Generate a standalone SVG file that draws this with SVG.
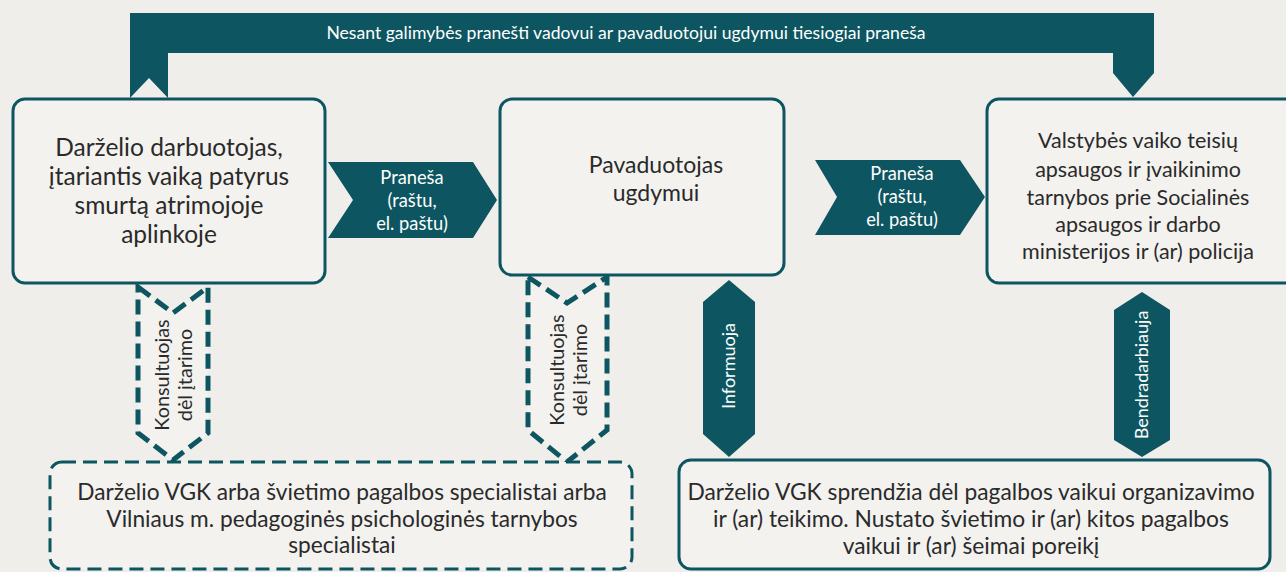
<svg xmlns="http://www.w3.org/2000/svg" width="1286" height="572" viewBox="0 0 1286 572">
<style>
.box{fill:#f3f2ef;stroke:#0d5661;stroke-width:3}
.dbox{fill:#f3f2ef;stroke:#0d5661;stroke-width:3;stroke-dasharray:14 7}
.band{fill:#0d5661}
.dash{fill:#f3f2ef;stroke:#0d5661;stroke-width:5;stroke-dasharray:15 7}
.t{font-family:Lato,"Liberation Sans",sans-serif;fill:#2a2a2a;text-anchor:middle}
.w{font-family:Lato,"Liberation Sans",sans-serif;fill:#ffffff;text-anchor:middle}
</style>
<rect x="0" y="0" width="1286" height="572" fill="#efeeeb"/>
<g id="connectors">
  <g id="top-band">
    <path class="band" d="M130,98 L130,13 L1154,13 L1154,73 L1133,97 L1113,73 L1113,53 L168,53 L168,98 L149,78 Z"/>
    <text class="w" x="626" y="39" font-size="17.6">Nesant galimybės pranešti vadovui ar pavaduotojui ugdymui tiesiogiai praneša</text>
  </g>
  <g id="arrow1">
    <path class="band" d="M328,162 L473,162 L497,200 L473,238 L328,238 L353,200 Z"/>
    <text class="w" font-size="18.3"><tspan x="412" y="184">Praneša</tspan><tspan x="412" y="207">(raštu,</tspan><tspan x="412" y="230">el. paštu)</tspan></text>
  </g>
  <g id="arrow2">
    <path class="band" d="M815,160 L960,160 L985,197 L960,235 L815,235 L837,197 Z"/>
    <text class="w" font-size="18.3"><tspan x="902" y="180">Praneša</tspan><tspan x="902" y="203">(raštu,</tspan><tspan x="902" y="226">el. paštu)</tspan></text>
  </g>
  <g id="consult1">
    <path class="dash" d="M138,287 L173,313 L208,287 L208,433 L173,460 L138,433 Z"/>
    <text class="t" font-size="19.8" transform="translate(173,375) rotate(-90)"><tspan x="0" y="-4">Konsultuojas</tspan><tspan x="0" y="19">dėl įtarimo</tspan></text>
  </g>
  <g id="consult2">
    <path class="dash" d="M528,277 L567,303 L607,277 L607,430 L567,462 L528,430 Z"/>
    <text class="t" font-size="19.8" transform="translate(568,370) rotate(-90)"><tspan x="0" y="-4">Konsultuojas</tspan><tspan x="0" y="19">dėl įtarimo</tspan></text>
  </g>
  <g id="inform">
    <path class="band" d="M729,280 L755,302 L755,434 L729,457 L703,434 L703,302 Z"/>
    <text class="w" font-size="18" transform="translate(729,366) rotate(-90)" x="0" y="6">Informuoja</text>
  </g>
  <g id="bendr">
    <path class="band" d="M1142,292 L1170,310 L1170,440 L1142,457 L1114,440 L1114,310 Z"/>
    <text class="w" font-size="18" transform="translate(1142,375) rotate(-90)" x="0" y="6">Bendradarbiauja</text>
  </g>
</g>
<g id="node-employee">
  <rect class="box" x="13" y="99" width="312" height="184" rx="12"/>
  <text class="t" font-size="24.5"><tspan x="169" y="156">Darželio darbuotojas,</tspan><tspan x="169" y="185">įtariantis vaiką patyrus</tspan><tspan x="169" y="214">smurtą atrimojoje</tspan><tspan x="169" y="243">aplinkoje</tspan></text>
</g>
<g id="node-deputy">
  <rect class="box" x="500" y="99" width="284" height="176" rx="12"/>
  <text class="t" font-size="23"><tspan x="656" y="173">Pavaduotojas</tspan><tspan x="656" y="201">ugdymui</tspan></text>
</g>
<g id="node-agency">
  <rect class="box" x="987" y="99" width="320" height="184" rx="12"/>
  <text class="t" font-size="21.5"><tspan x="1138" y="148">Valstybės vaiko teisių</tspan><tspan x="1138" y="177">apsaugos ir įvaikinimo</tspan><tspan x="1138" y="205">tarnybos prie Socialinės</tspan><tspan x="1138" y="232">apsaugos ir darbo</tspan><tspan x="1138" y="259">ministerijos ir (ar) policija</tspan></text>
</g>
<g id="node-specialists">
  <rect class="dbox" x="50" y="462" width="582" height="107" rx="12"/>
  <text class="t" font-size="22.7"><tspan x="342" y="500">Darželio VGK arba švietimo pagalbos specialistai arba</tspan><tspan x="342" y="527">Vilniaus m. pedagoginės psichologinės tarnybos</tspan><tspan x="342" y="553">specialistai</tspan></text>
</g>
<g id="node-vgk">
  <rect class="box" x="679" y="460" width="591" height="109" rx="12"/>
  <text class="t" font-size="22.8"><tspan x="971" y="500">Darželio VGK sprendžia dėl pagalbos vaikui organizavimo</tspan><tspan x="971" y="527">ir (ar) teikimo. Nustato švietimo ir (ar) kitos pagalbos</tspan><tspan x="971" y="554">vaikui ir (ar) šeimai poreikį</tspan></text>
</g>
</svg>
